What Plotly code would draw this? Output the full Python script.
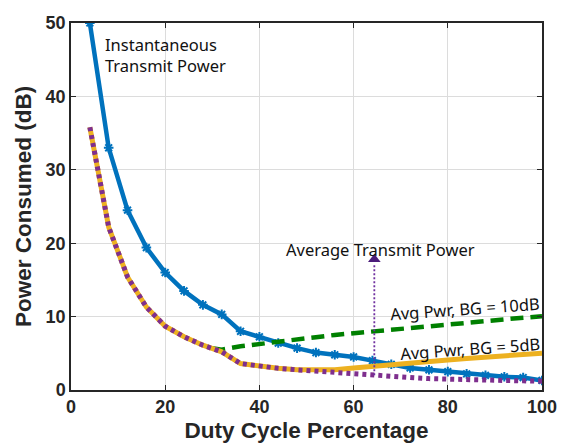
import plotly.graph_objects as go

# ---------------- data ----------------
duty = [4, 8, 12, 16, 20, 24, 28, 32, 36, 40, 44, 48, 52, 56, 60, 64, 68, 72, 76, 80, 84, 88, 92, 96, 100]
inst_power = [50, 33, 24.5, 19.4, 16, 13.5, 11.6, 10.3, 8.0, 7.25, 6.4, 5.7, 5.1, 4.8, 4.5, 4.0,
              3.5, 3.0, 2.75, 2.5, 2.2, 2.0, 1.8, 1.7, 1.3]
avg_power = [35.8, 22.2, 15.4, 11.3, 8.7, 7.25, 6.1, 5.2, 3.6, 3.2, 2.95, 2.75, 2.55, 2.35, 2.2,
             2.0, 1.85, 1.7, 1.55, 1.45, 1.4, 1.35, 1.3, 1.25, 1.2]
avg_bg5 = [35.8, 22.2, 15.4, 11.3, 8.7, 7.25, 6.1, 5.2, 3.6, 3.2, 2.95, 2.75, 2.7, 2.75, 3.0,
           3.25, 3.45, 3.65, 3.85, 4.1, 4.3, 4.5, 4.7, 4.85, 5.0]
duty_bg10 = [30, 32, 36, 40, 44, 48, 52, 56, 60, 64, 68, 72, 76, 80, 84, 88, 92, 96, 100]
avg_bg10 = [5.7, 5.5, 5.95, 6.3, 6.6, 6.9, 7.2, 7.5, 7.75, 8.0, 8.25, 8.5, 8.75, 9.0, 9.2, 9.45,
            9.65, 9.85, 10.05]
arrow_x = [64.4, 64.4]
arrow_y = [2.0, 17.2]
x_ticks = [0, 20, 40, 60, 80, 100]
y_ticks = [0, 10, 20, 30, 40, 50]

# ---------------- figure ----------------
fig = go.Figure()

fig.add_trace(go.Scatter(
    x=duty, y=inst_power, mode="lines+markers",
    line=dict(color="#0072BD", width=4.5),
    marker=dict(symbol="asterisk-open", size=8, color="#0072BD",
                line=dict(color="#0072BD", width=2)),
    showlegend=False))

fig.add_trace(go.Scatter(
    x=duty_bg10, y=avg_bg10, mode="lines",
    line=dict(color="#008000", width=4.5, dash="13px,7px"),
    showlegend=False))

fig.add_trace(go.Scatter(
    x=duty, y=avg_bg5, mode="lines",
    line=dict(color="#EDB120", width=5),
    showlegend=False))

fig.add_trace(go.Scatter(
    x=duty, y=avg_power, mode="lines",
    line=dict(color="#7E2F8E", width=5, dash="4px,4px"),
    showlegend=False))

# arrow (dotted shaft + head)
fig.add_trace(go.Scatter(
    x=arrow_x, y=arrow_y, mode="lines",
    line=dict(color="#7030A0", width=1.8, dash="2px,2px"),
    showlegend=False))
fig.add_trace(go.Scatter(
    x=[arrow_x[1]], y=[arrow_y[1] + 0.6], mode="markers",
    marker=dict(symbol="triangle-up", size=11, color="#4B1C7A"),
    showlegend=False))

txt_font = dict(family="Noto Sans", size=16.5, color="#111111")

fig.add_annotation(x=6.8, y=48.9, xref="x", yref="y", text="Instantaneous<br>Transmit Power",
                   showarrow=False, xanchor="left", yanchor="top", align="left", font=txt_font)
fig.add_annotation(x=65.8, y=19.2, xref="x", yref="y", text="Average Transmit Power",
                   showarrow=False, xanchor="center", yanchor="middle", font=txt_font)
fig.add_annotation(x=83.7, y=11.1, xref="x", yref="y", text="Avg Pwr, BG = 10dB",
                   showarrow=False, textangle=-4, font=txt_font)
fig.add_annotation(x=84.8, y=5.7, xref="x", yref="y", text="Avg Pwr, BG = 5dB",
                   showarrow=False, textangle=-4, font=txt_font)

bold_font = "Liberation Sans, Arial, sans-serif"

axis_common = dict(
    showline=True, linecolor="#262626", linewidth=1.5, mirror="ticks",
    ticks="inside", ticklen=5, tickcolor="#262626", tickwidth=1.2,
    showgrid=True, gridcolor="#dcdcdc", gridwidth=1.2, zeroline=False,
    automargin=False,
    tickfont=dict(family=bold_font, size=18, color="#262626", weight="bold"),
)

fig.update_xaxes(range=[0, 100], tickvals=x_ticks, ticktext=[str(v) for v in x_ticks],
                 title=dict(text="Duty Cycle Percentage", standoff=6,
                            font=dict(family=bold_font, size=22.5, color="#262626", weight="bold")),
                 **axis_common)
fig.update_yaxes(range=[0, 50], tickvals=y_ticks, ticktext=[str(v) for v in y_ticks],
                 title=dict(text="Power Consumed (dB)", standoff=8,
                            font=dict(family=bold_font, size=22.5, color="#262626", weight="bold")),
                 **axis_common)

fig.update_layout(
    width=566, height=443,
    margin=dict(l=71, r=24, t=23, b=53),
    plot_bgcolor="white", paper_bgcolor="white",
    showlegend=False,
)

fig.write_html("out.html", config={"displayModeBar": False},
               post_script="document.body.style.margin='0';document.body.style.padding='0';")
